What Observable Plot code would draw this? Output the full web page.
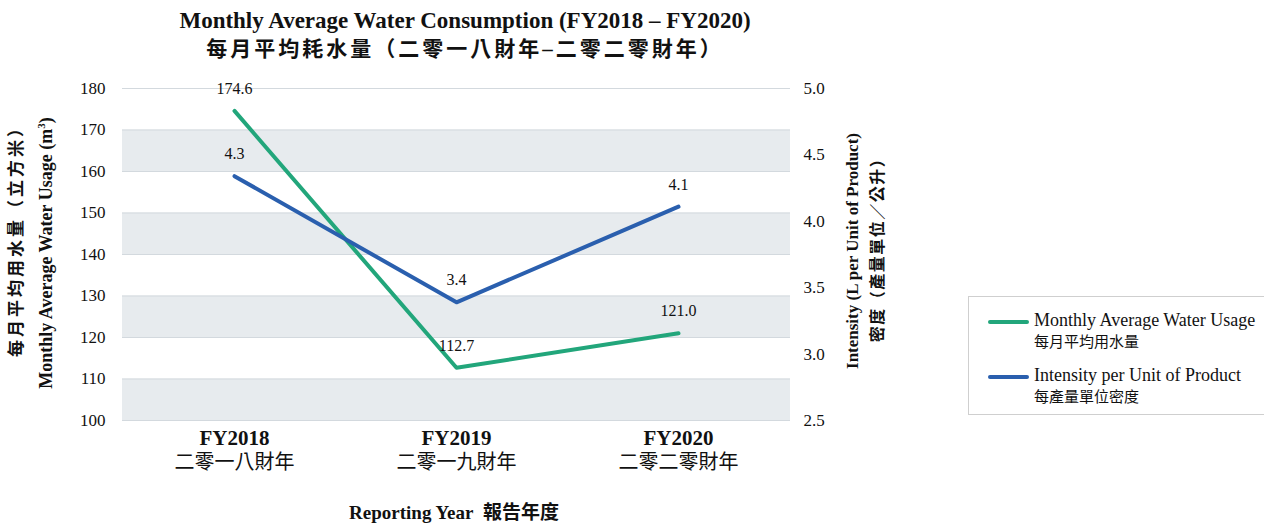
<!DOCTYPE html>
<html><head><meta charset="utf-8">
<script src="https://cdn.jsdelivr.net/npm/d3@7"></script>
<script src="https://cdn.jsdelivr.net/npm/@observablehq/plot@0.6"></script>
<style>
body{margin:0;background:#fff;}
#wrap{position:relative;width:1264px;height:525px;overflow:hidden;font-family:"Liberation Serif","Noto Sans CJK TC",serif;color:#111;}
.abs{position:absolute;white-space:nowrap;}
.rot{transform:translate(-50%,-50%) rotate(-90deg);text-align:center;font-weight:bold;line-height:25px;}
</style></head><body><div id="wrap"></div>
<script>
const years = ["FY2018","FY2019","FY2020"];
const yearsZh = ["二零一八財年","二零一九財年","二零二零財年"];
const waterUsage = [174.6, 112.7, 121.0];
const intensity = [4.34, 3.39, 4.11];
const leftTicks = [100,110,120,130,140,150,160,170,180];
const rightTicks = [2.5,3.0,3.5,4.0,4.5,5.0];
const bandStarts = [100,120,140,160];
const seriesNames = ["Monthly Average Water Usage","Intensity per Unit of Product"];
const seriesNamesZh = ["每月平均用水量","每產量單位密度"];
const colors = ["#22a67b","#2a5fae"];

const toLeft = v => 100 + (v - 2.5) * 32;
const fromLeft = d => (d - 100) / 32 + 2.5;

const waterRows = years.map((y,i)=>({year:y, v:waterUsage[i], label:waterUsage[i].toFixed(1)}));
const intRows = years.map((y,i)=>({year:y, v:toLeft(intensity[i]), label:intensity[i].toFixed(1)}));

const chart = Plot.plot({
  width:1264, height:525,
  marginLeft:122, marginRight:474, marginTop:88, marginBottom:105,
  style:{fontFamily:"'Liberation Serif','Noto Sans CJK TC',serif", color:"#111", background:"transparent"},
  x:{type:"point", domain:years, padding:0.5, axis:null},
  y:{domain:[100,180], axis:null},
  marks:[
    Plot.rect(bandStarts, {y1:d=>d, y2:d=>d+10, fill:"#e7ebee"}),
    Plot.ruleY(leftTicks, {stroke:"#d3d9de", strokeWidth:1}),
    Plot.axisY(leftTicks, {anchor:"left", tickSize:0, tickPadding:17, fontSize:17, label:null}),
    Plot.axisY(rightTicks.map(toLeft), {anchor:"right", tickSize:0, tickPadding:13, fontSize:17, label:null, tickFormat:d=>fromLeft(d).toFixed(1)}),
    Plot.axisX({tickSize:0, tickPadding:10, fontSize:21, fontWeight:"bold", label:null}),
    Plot.axisX({tickSize:0, tickPadding:34, fontSize:20, label:null, tickFormat:d=>yearsZh[years.indexOf(d)]}),
    Plot.line(waterRows, {x:"year", y:"v", stroke:colors[0], strokeWidth:4}),
    Plot.line(intRows, {x:"year", y:"v", stroke:colors[1], strokeWidth:4}),
    Plot.text(waterRows, {x:"year", y:"v", text:"label", dy:-22, fontSize:16}),
    Plot.text(intRows, {x:"year", y:"v", text:"label", dy:-22, fontSize:16})
  ]
});
const wrap = document.getElementById("wrap");
chart.style.position = "absolute";
chart.style.left = "0"; chart.style.top = "0";
wrap.appendChild(chart);

function add(html, css, cls="abs"){
  const d = document.createElement("div");
  d.className = cls; d.innerHTML = html; d.style.cssText = css; wrap.appendChild(d); return d;
}
add("<span style='font-size:23px'>Monthly Average Water Consumption (FY2018 – FY2020)</span><br><span style='font-size:21px;letter-spacing:3px'>每月平均耗水量（二零一八財年–二零二零財年）</span>",
    "left:465px;top:8px;transform:translateX(-50%);text-align:center;font-weight:bold;line-height:26px;");
add("<span style='font-size:17px;letter-spacing:3px;position:relative;left:16px'>每月平均用水量（立方米）</span><br><span style='font-size:18px'>Monthly Average Water Usage (m<sup style='font-size:11px'>3</sup>)</span>",
    "left:31px;top:253px;", "abs rot");
add("<span style='font-size:17px'>Intensity (L per Unit of Product)</span><br><span style='font-size:16px;letter-spacing:1.5px;position:relative;left:5px'>密度（產量單位／公升）</span>",
    "left:865px;top:251px;", "abs rot");
add("Reporting Year&nbsp; 報告年度",
    "left:454px;top:502px;transform:translateX(-50%);font-weight:bold;font-size:19px;line-height:21px;");

const legend = add("", "left:968px;top:296px;width:310px;height:119px;border:1px solid #cfcfcf;box-sizing:border-box;background:#fff;");
seriesNames.forEach((n,i)=>{
  const top = 13 + i*55;
  const item = document.createElement("div");
  item.style.cssText = `position:absolute;left:19px;top:${top}px;`;
  item.innerHTML = `<div style="position:absolute;left:0;top:10px;width:41px;height:4px;border-radius:2px;background:${colors[i]}"></div>
    <div style="position:absolute;left:46px;top:0;white-space:nowrap;font-size:18px;line-height:21px;">${n}<br><span style="font-size:15px">${seriesNamesZh[i]}</span></div>`;
  legend.appendChild(item);
});
</script>
</body></html>
